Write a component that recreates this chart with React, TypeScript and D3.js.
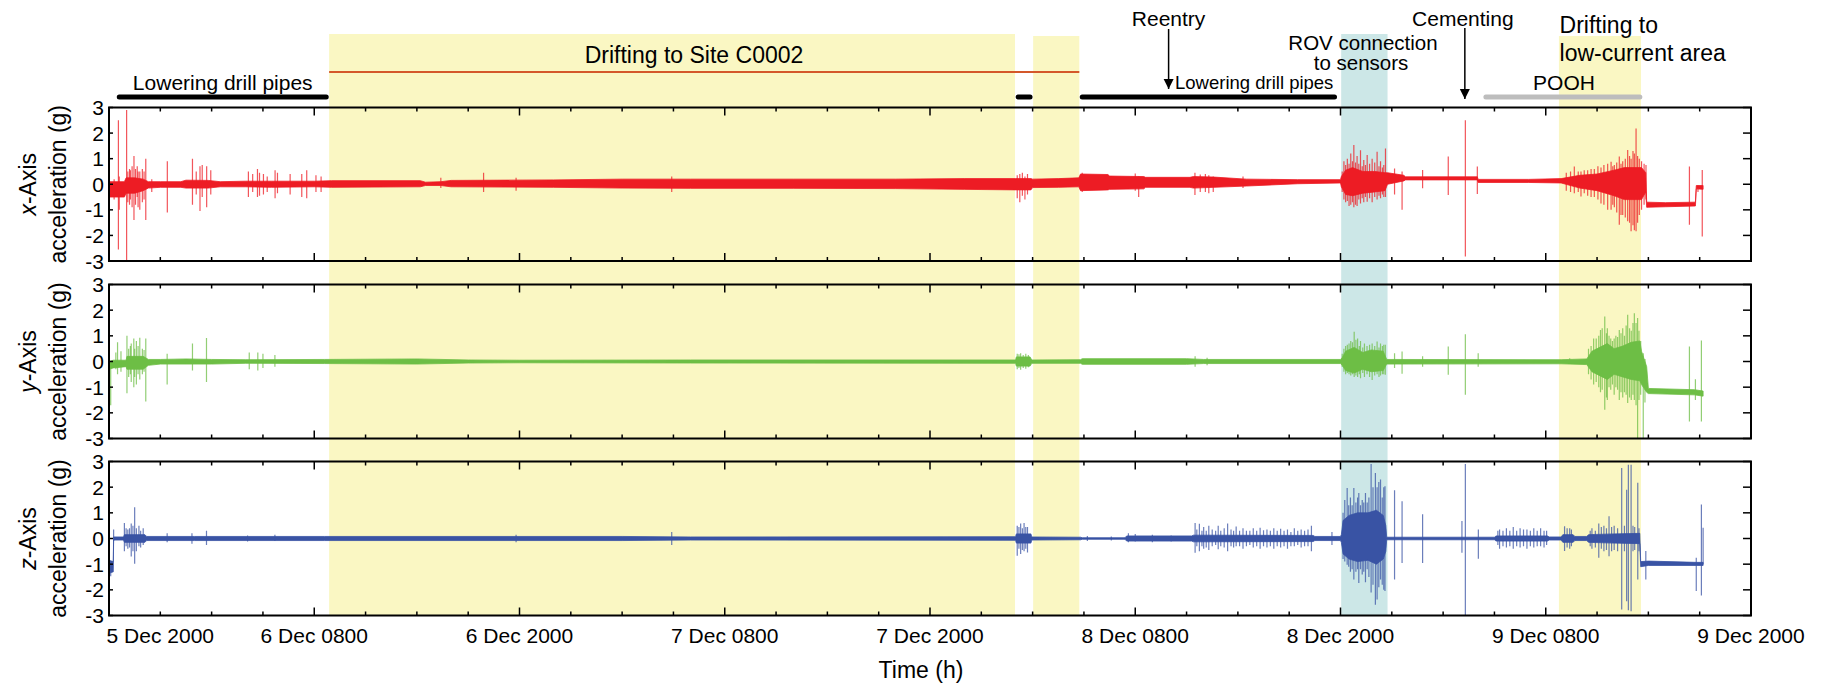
import React from "react";
import * as d3 from "d3";

// ---------- DATA (hours since 5 Dec 2000 20:00 on the plot's time axis) ----------
const xTickHours = [3, 12, 24, 36, 48, 60, 72, 84, 96];
const xTickLabels = ["5 Dec 2000", "6 Dec 0800", "6 Dec 2000", "7 Dec 0800", "7 Dec 2000", "8 Dec 0800", "8 Dec 2000", "9 Dec 0800", "9 Dec 2000"];
const yTicks = [-3, -2, -1, 0, 1, 2, 3];

// shaded operation periods [startH, endH]
const yellowPeriods = [[12.87, 52.97], [54.03, 56.73], [84.77, 89.57]];
const bluePeriods = [[72.04, 74.75]];

// operation bars [startH, endH]
const blackBars = [[0.6, 12.7], [53.15, 53.85], [56.9, 71.65]];
const driftLine = [12.87, 56.73];
const poohBar = [80.5, 89.5];
const reentryH = 61.95;
const cementingH = 79.27;

// x-axis acceleration: core band [h, lo, hi] and spikes [h, lo, hi]
const xBand = [
  [0, -0.5, 0.1], [0.9, -0.5, 0.1], [1.0, -0.35, 0.25], [1.5, -0.35, 0.25], [2.0, -0.25, 0.2],
  [2.3, -0.15, 0.1], [3.0, -0.12, 0.1], [4.2, -0.12, 0.1], [4.5, -0.15, 0.16], [5.8, -0.15, 0.15],
  [6.5, -0.1, 0.1], [8.0, -0.1, 0.12], [9.5, -0.12, 0.12], [12.0, -0.1, 0.12], [13.0, -0.12, 0.14],
  [18.2, -0.1, 0.14], [18.5, -0.05, 0.08], [19.4, -0.05, 0.1], [20, -0.1, 0.15], [26, -0.12, 0.17],
  [30, -0.15, 0.2], [34, -0.16, 0.2], [40, -0.16, 0.2], [46, -0.17, 0.2], [50, -0.2, 0.22],
  [53.0, -0.22, 0.22], [53.9, -0.22, 0.22], [54.0, -0.13, 0.2], [55.5, -0.12, 0.22], [56.7, -0.1, 0.25],
  [56.8, -0.25, 0.4], [58.4, -0.22, 0.38], [58.5, -0.2, 0.32], [60.5, -0.18, 0.3], [60.6, -0.12, 0.27],
  [63.2, -0.12, 0.27], [63.4, -0.15, 0.3], [64.6, -0.12, 0.28], [66.5, -0.07, 0.2], [69.5, 0.02, 0.18],
  [72.0, 0.05, 0.18], [72.05, -0.1, 0.3], [72.3, -0.4, 0.55], [72.7, -0.45, 0.65], [73.3, -0.35, 0.5],
  [74.0, -0.3, 0.5], [74.6, -0.25, 0.45], [74.75, 0.0, 0.45], [75.7, 0.13, 0.35], [75.8, 0.17, 0.29],
  [80.0, 0.17, 0.29], [80.05, 0.07, 0.19], [83.0, 0.07, 0.19], [84.9, 0.05, 0.22], [86.0, -0.15, 0.35],
  [87.0, -0.25, 0.4], [88.0, -0.45, 0.55], [88.6, -0.6, 0.65], [89.6, -0.6, 0.65], [89.85, -0.3, 0.45],
  [89.9, -0.9, -0.7], [91, -0.88, -0.72], [92.75, -0.85, -0.7], [92.8, -0.18, -0.05], [93.2, -0.2, -0.05],
];
const xSpikes = [
  [0.3, -0.6, 0.2], [0.55, -2.55, 2.5], [0.6, -1.0, 0.3], [1.03, -3.0, 2.9], [1.1, -0.7, 0.5],
  [1.2, -0.8, 0.6], [1.25, -0.6, 0.55], [1.35, -0.9, 0.7], [1.46, -1.4, 1.1], [1.55, -0.8, 0.6],
  [1.65, -0.5, 0.7], [1.7, -0.9, 0.5], [1.8, -1.0, 0.5], [1.95, -0.7, 0.6], [2.05, -0.6, 0.5],
  [2.15, -1.4, 1.0], [2.5, -0.3, 0.2], [3.41, -1.1, 0.9], [4.88, -0.8, 1.0], [5.1, -0.4, 0.5],
  [5.32, -1.05, 0.7], [5.45, -0.5, 0.75], [5.71, -0.9, 0.7], [5.95, -0.4, 0.55], [8.15, -0.5, 0.5],
  [8.4, -0.3, 0.4], [8.68, -0.5, 0.6], [8.8, -0.45, 0.45], [9.03, -0.4, 0.4], [9.25, -0.3, 0.3],
  [9.71, -0.55, 0.55], [9.85, -0.35, 0.45], [10.59, -0.4, 0.4], [11.27, -0.5, 0.4], [11.56, -0.55, 0.55],
  [12.1, -0.3, 0.35], [12.4, -0.3, 0.3], [19.4, -0.15, 0.25], [21.9, -0.3, 0.45], [23.8, -0.25, 0.25],
  [32.9, -0.3, 0.3], [53.1, -0.55, 0.35], [53.25, -0.7, 0.4], [53.4, -0.45, 0.45], [53.55, -0.6, 0.3],
  [53.7, -0.4, 0.4], [56.9, -0.3, 0.45], [60.0, -0.25, 0.42], [60.2, -0.5, 0.3], [63.49, -0.42, 0.45],
  [63.8, -0.3, 0.38], [64.1, -0.3, 0.4], [64.3, -0.35, 0.35], [64.56, -0.3, 0.3], [66.3, -0.15, 0.3],
  [72.1, -0.3, 0.5], [72.2, -0.6, 0.9], [72.3, -0.7, 0.75], [72.4, -0.65, 1.0], [72.5, -0.85, 0.8],
  [72.6, -0.8, 1.2], [72.7, -0.7, 0.9], [72.78, -0.9, 1.53], [72.88, -0.8, 0.85], [72.97, -0.85, 1.1],
  [73.07, -0.6, 0.8], [73.17, -0.75, 1.33], [73.27, -0.55, 0.7], [73.36, -0.7, 0.95], [73.46, -0.5, 0.75],
  [73.56, -0.68, 1.14], [73.7, -0.55, 0.8], [73.85, -0.7, 1.0], [74.0, -0.5, 0.85], [74.14, -0.6, 1.27],
  [74.25, -0.45, 0.7], [74.34, -0.55, 0.9], [74.45, -0.4, 0.65], [74.53, -0.5, 0.75], [74.63, -0.5, 1.4],
  [75.16, -0.4, 0.62], [75.6, -1.0, 0.5], [76.8, -0.16, 0.56], [78.3, -0.42, 1.08], [79.3, -2.82, 2.5],
  [80.0, -0.38, 0.69], [85.2, -0.25, 0.45], [85.45, -0.3, 0.5], [85.67, -0.35, 0.69], [85.9, -0.3, 0.5],
  [86.06, -0.48, 0.5], [86.25, -0.35, 0.55], [86.45, -0.45, 0.55], [86.65, -0.5, 0.6], [86.84, -0.5, 0.6],
  [87.05, -0.6, 0.7], [87.23, -0.75, 0.65], [87.4, -0.8, 0.75], [87.62, -1.0, 0.8], [87.82, -1.0, 0.88],
  [87.92, -0.8, 0.7], [88.01, -0.9, 0.75], [88.15, -1.1, 0.85], [88.3, -1.58, 1.08], [88.4, -1.2, 0.8],
  [88.5, -1.2, 0.9], [88.65, -1.3, 1.0], [88.79, -1.45, 1.34], [88.9, -1.5, 1.1], [88.99, -1.84, 1.0],
  [89.1, -1.6, 1.3], [89.18, -1.8, 1.2], [89.28, -1.84, 2.18], [89.37, -1.5, 1.1], [89.47, -1.2, 1.0],
  [89.6, -1.0, 0.9], [89.75, -0.8, 0.8], [89.86, -0.6, 0.75], [92.4, -1.58, 0.69], [92.9, -0.3, -0.05],
  [93.15, -2.04, 0.56],
];

// y-axis acceleration
const yBand = [
  [0, -0.3, 0.0], [0.25, -0.25, 0.05], [1.0, -0.2, 0.05], [1.05, -0.3, 0.2], [2.0, -0.3, 0.2],
  [2.3, -0.15, 0.08], [3.0, -0.1, 0.08], [4.5, -0.1, 0.1], [6.0, -0.1, 0.08], [8, -0.07, 0.07],
  [12.6, -0.08, 0.08], [18, -0.1, 0.1], [21, -0.06, 0.06], [24, -0.05, 0.05], [34, -0.06, 0.06],
  [53, -0.07, 0.06], [53.05, -0.18, 0.18], [53.85, -0.18, 0.18], [53.95, -0.07, 0.06], [56.8, -0.07, 0.07],
  [56.9, -0.11, 0.11], [63, -0.11, 0.11], [64, -0.08, 0.08], [72.0, -0.08, 0.08], [72.1, -0.15, 0.15],
  [72.3, -0.35, 0.4], [72.8, -0.45, 0.55], [73.3, -0.3, 0.35], [73.8, -0.4, 0.45], [74.5, -0.35, 0.4],
  [74.7, -0.1, 0.08], [84.9, -0.09, 0.07], [86.4, -0.12, 0.1], [86.7, -0.4, 0.4], [87.3, -0.6, 0.6],
  [87.6, -0.7, 0.7], [88.0, -0.5, 0.5], [88.5, -0.6, 0.6], [89.0, -0.7, 0.75], [89.5, -0.75, 0.8],
  [89.6, -0.9, 0.4], [89.9, -1.2, -0.2], [90.0, -1.25, -1.05], [92.7, -1.3, -1.1], [93.2, -1.35, -1.15],
];
const ySpikes = [
  [0.1, -1.7, 0.0], [0.4, -0.3, 0.35], [0.5, -0.5, 0.75], [0.7, -0.4, 0.4], [1.05, -1.24, 1.0],
  [1.15, -0.6, 0.5], [1.25, -0.5, 0.6], [1.3, -0.8, 0.7], [1.45, -1.0, 0.9], [1.5, -0.6, 0.5],
  [1.6, -0.9, 0.8], [1.7, -0.5, 0.6], [1.8, -0.7, 0.93], [1.95, -0.5, 0.5], [2.05, -0.4, 0.45],
  [2.15, -1.56, 0.9], [3.4, -0.9, 0.3], [4.88, -0.35, 0.7], [5.7, -0.8, 0.92], [8.2, -0.3, 0.35],
  [8.7, -0.35, 0.35], [9.0, -0.25, 0.3], [9.7, -0.2, 0.25], [53.1, -0.3, 0.3], [53.2, -0.25, 0.28],
  [53.3, -0.32, 0.32], [53.45, -0.25, 0.25], [53.6, -0.28, 0.3], [53.75, -0.22, 0.25], [63.5, -0.2, 0.2],
  [64.2, -0.15, 0.15], [72.1, -0.2, 0.3], [72.2, -0.4, 0.5], [72.3, -0.5, 0.6], [72.4, -0.45, 0.65],
  [72.5, -0.5, 0.7], [72.6, -0.55, 0.8], [72.7, -0.5, 0.75], [72.8, -0.6, 1.16], [72.9, -0.55, 0.85],
  [73.0, -0.6, 0.9], [73.1, -0.5, 0.6], [73.17, -0.65, 0.8], [73.3, -0.45, 0.55], [73.4, -0.6, 0.7],
  [73.55, -0.5, 0.6], [73.7, -0.6, 0.65], [73.85, -0.72, 0.7], [74.0, -0.55, 0.6], [74.14, -0.5, 0.78],
  [74.25, -0.6, 0.55], [74.34, -0.55, 0.7], [74.45, -0.5, 0.6], [74.53, -0.5, 0.65], [74.62, -0.52, 0.65],
  [75.16, -0.25, 0.32], [75.6, -0.48, 0.39], [76.8, -0.2, 0.2], [78.3, -0.52, 0.58], [79.3, -1.3, 1.06],
  [80.05, -0.2, 0.32], [85.4, -0.1, 0.13], [86.5, -0.5, 0.5], [86.65, -0.7, 0.6], [86.8, -0.9, 0.9],
  [86.95, -0.8, 0.9], [87.1, -1.0, 1.0], [87.2, -1.2, 1.23], [87.3, -1.1, 1.3], [87.45, -1.88, 1.75],
  [87.55, -1.4, 1.1], [87.6, -1.5, 1.3], [87.7, -1.0, 1.0], [87.8, -1.1, 0.9], [87.9, -0.9, 0.8],
  [88.0, -1.3, 0.9], [88.1, -1.0, 1.0], [88.2, -1.1, 0.95], [88.3, -1.5, 1.23], [88.4, -1.2, 1.1],
  [88.5, -1.4, 1.3], [88.6, -1.2, 1.0], [88.7, -1.3, 1.4], [88.79, -1.62, 1.82], [88.9, -1.4, 1.3],
  [89.0, -1.5, 1.2], [89.1, -1.3, 1.5], [89.18, -1.5, 1.88], [89.28, -1.7, 1.5], [89.37, -3.0, 1.69],
  [89.45, -1.5, 1.2], [89.55, -1.3, 0.8], [89.7, -3.0, 0.32], [89.8, -1.6, 0.1], [92.4, -2.34, 0.58],
  [92.75, -1.5, -0.69], [93.1, -2.34, 0.82],
];

// z-axis acceleration
const zBand = [
  [0, -1.35, -0.85], [0.25, -1.3, -0.9], [0.27, -0.06, 0.06], [0.85, -0.06, 0.06], [0.9, -0.15, 0.15],
  [2.1, -0.15, 0.15], [2.2, -0.08, 0.08], [5, -0.08, 0.08], [12.6, -0.08, 0.08], [30, -0.08, 0.08],
  [34, -0.06, 0.06], [53.0, -0.07, 0.07], [53.05, -0.18, 0.18], [53.9, -0.18, 0.18], [53.95, -0.06, 0.06],
  [56.8, -0.05, 0.05], [56.9, -0.03, 0.03], [59.4, -0.03, 0.03], [59.5, -0.1, 0.1], [63.3, -0.1, 0.1],
  [63.4, -0.13, 0.13], [70.4, -0.12, 0.12], [70.5, -0.08, 0.08], [72.0, -0.08, 0.08], [72.05, -0.15, 0.15],
  [72.15, -0.6, 0.7], [72.5, -0.8, 0.9], [73.0, -0.9, 1.0], [73.6, -0.85, 1.0], [74.1, -1.0, 1.1],
  [74.5, -0.8, 0.9], [74.65, -0.5, 0.5], [74.7, -0.05, 0.05], [81.0, -0.05, 0.05], [81.1, -0.1, 0.1],
  [84.1, -0.1, 0.1], [84.2, -0.06, 0.06], [84.9, -0.06, 0.06], [85.0, -0.15, 0.15], [85.6, -0.15, 0.15],
  [85.7, -0.08, 0.08], [86.4, -0.08, 0.08], [86.5, -0.15, 0.15], [88.0, -0.18, 0.18], [89.5, -0.2, 0.2],
  [89.55, -1.1, -0.9], [90.0, -1.05, -0.88], [92.8, -1.05, -0.93], [93.2, -1.05, -0.93],
];
const zSpikes = [
  [0.1, -1.47, -0.9], [0.27, -0.1, 0.35], [0.9, -0.5, 0.6], [1.0, -0.3, 0.4], [1.1, -0.4, 0.35],
  [1.2, -0.35, 0.4], [1.3, -0.7, 0.58], [1.4, -0.5, 0.5], [1.5, -0.98, 1.22], [1.6, -0.5, 0.4],
  [1.75, -0.3, 0.5], [1.85, -0.35, 0.3], [2.0, -0.25, 0.4], [3.4, -0.15, 0.2], [4.85, -0.2, 0.2],
  [5.7, -0.25, 0.3], [8.1, -0.12, 0.12], [9.7, -0.1, 0.15], [23.8, -0.15, 0.15], [32.9, -0.25, 0.25],
  [53.1, -0.67, 0.5], [53.2, -0.4, 0.45], [53.3, -0.6, 0.58], [53.4, -0.45, 0.4], [53.5, -0.5, 0.6],
  [53.6, -0.4, 0.45], [53.7, -0.55, 0.45], [57.2, -0.1, 0.1], [58.6, -0.08, 0.08], [59.6, -0.15, 0.2],
  [60.0, -0.12, 0.18], [61, -0.15, 0.15], [62.1, -0.12, 0.12], [63.5, -0.56, 0.6], [63.6, -0.3, 0.35],
  [63.75, -0.5, 0.57], [63.9, -0.3, 0.3], [64.0, -0.4, 0.45], [64.15, -0.35, 0.3], [64.3, -0.45, 0.5],
  [64.5, -0.3, 0.35], [64.7, -0.25, 0.3], [64.85, -0.42, 0.5], [65.0, -0.3, 0.3], [65.2, -0.35, 0.4],
  [65.4, -0.5, 0.58], [65.6, -0.3, 0.35], [65.75, -0.35, 0.3], [65.9, -0.3, 0.47], [66.1, -0.3, 0.3],
  [66.3, -0.4, 0.4], [66.5, -0.3, 0.3], [66.7, -0.25, 0.3], [66.9, -0.35, 0.4], [67.1, -0.3, 0.3],
  [67.3, -0.4, 0.42], [67.5, -0.3, 0.32], [67.7, -0.35, 0.35], [67.9, -0.3, 0.3], [68.1, -0.4, 0.4],
  [68.3, -0.3, 0.3], [68.5, -0.35, 0.38], [68.7, -0.3, 0.3], [68.9, -0.4, 0.35], [69.1, -0.3, 0.25],
  [69.3, -0.3, 0.4], [69.5, -0.25, 0.3], [69.7, -0.35, 0.35], [69.9, -0.3, 0.3], [70.1, -0.3, 0.35],
  [70.3, -0.5, 0.5], [71.5, -0.25, 0.25], [72.15, -0.8, 1.0], [72.25, -0.9, 1.5], [72.39, -1.02, 1.97],
  [72.48, -1.1, 1.3], [72.58, -1.3, 1.6], [72.68, -1.2, 1.3], [72.78, -1.6, 1.97], [72.9, -1.3, 1.4],
  [73.0, -1.2, 1.6], [73.07, -1.73, 1.77], [73.17, -1.2, 1.3], [73.27, -1.4, 1.5], [73.36, -1.3, 1.4],
  [73.46, -1.7, 1.77], [73.56, -1.2, 1.4], [73.66, -1.5, 1.6], [73.79, -2.1, 2.9], [73.9, -1.8, 2.0],
  [74.04, -2.58, 2.55], [74.14, -2.38, 2.0], [74.24, -1.9, 2.2], [74.34, -1.6, 2.3], [74.44, -1.8, 1.6],
  [74.53, -2.0, 2.0], [74.6, -2.05, 2.04], [75.16, -1.6, 1.88], [75.6, -0.95, 1.45], [76.8, -0.95, 0.94],
  [79.1, -0.56, 0.68], [79.3, -3.0, 2.9], [80.06, -0.79, 0.35], [81.2, -0.25, 0.3], [81.3, -0.4, 0.35],
  [81.5, -0.3, 0.3], [81.7, -0.35, 0.4], [81.9, -0.3, 0.3], [82.1, -0.4, 0.45], [82.3, -0.3, 0.3],
  [82.5, -0.35, 0.4], [82.7, -0.3, 0.35], [82.9, -0.4, 0.35], [83.1, -0.3, 0.3], [83.3, -0.35, 0.4],
  [83.5, -0.3, 0.3], [83.7, -0.3, 0.4], [83.9, -0.35, 0.3], [84.05, -0.25, 0.3], [85.1, -0.49, 0.48],
  [85.25, -0.35, 0.4], [85.4, -0.4, 0.4], [85.5, -0.3, 0.35], [86.6, -0.3, 0.3], [86.7, -0.4, 0.4],
  [86.9, -0.35, 0.3], [87.1, -0.75, 0.58], [87.25, -0.4, 0.45], [87.4, -0.5, 0.5], [87.55, -0.45, 0.4],
  [87.7, -0.69, 0.87], [87.85, -0.5, 0.45], [88.0, -0.45, 0.5], [88.2, -0.5, 0.4], [88.44, -2.77, 2.75],
  [88.6, -0.5, 0.5], [88.73, -2.44, 1.9], [88.83, -2.8, 2.87], [88.99, -2.83, 2.87], [89.1, -0.5, 0.5],
  [89.2, -0.45, 0.45], [89.38, -1.6, 2.17], [89.45, -0.5, 0.4], [89.85, -1.6, -0.49], [92.8, -2.05, -0.75],
  [93.1, -2.22, 1.32], [93.2, -1.0, 0.42],
];

// ---------- LAYOUT ----------
const W = 1824, H = 689;
const PL = 109, PR = 1751;
const panels = [
  { top: 107.5, bottom: 261, band: xBand, spikes: xSpikes, color: "#ED1C24", axis: "x" },
  { top: 284.5, bottom: 438.5, band: yBand, spikes: ySpikes, color: "#6DBE45", axis: "y" },
  { top: 461.5, bottom: 615.5, band: zBand, spikes: zSpikes, color: "#3953A4", axis: "z" },
];
const FONT = "'Liberation Sans', Arial, Helvetica, sans-serif";
const YELLOW = "#FAF7C3";
const BLUE = "#CCE7E7";

export default function App() {
  const x = d3.scaleLinear().domain([0, 96]).range([PL, PR]);
  const minorTicks = d3.range(0, 97, 3);
  const shadeTop = 34;
  const shadeBottom = panels[2].bottom;

  return (
    <svg width={W} height={H} style={{ position: "absolute", left: 0, top: 0, background: "#fff" }} fontFamily={FONT}>
      <defs>
        {panels.map((p, i) => (
          <clipPath id={`clip${i}`} key={i}>
            <rect x={PL} y={p.top} width={PR - PL} height={p.bottom - p.top} />
          </clipPath>
        ))}
        <marker id="arrow" viewBox="0 0 10 10" refX="10" refY="5" markerWidth="10" markerHeight="14" markerUnits="userSpaceOnUse" orient="auto">
          <path d="M0,0 L10,5 L0,10 z" fill="#000" />
        </marker>
      </defs>

      {/* shaded periods */}
      {yellowPeriods.map(([a, b], i) => (
        <rect key={"y" + i} x={x(a)} y={i === 0 ? shadeTop : shadeTop + 2} width={x(b) - x(a)} height={shadeBottom - (i === 0 ? shadeTop : shadeTop + 2)} fill={YELLOW} />
      ))}
      {bluePeriods.map(([a, b], i) => (
        <rect key={"b" + i} x={x(a)} y={shadeTop} width={x(b) - x(a)} height={shadeBottom - shadeTop} fill={BLUE} />
      ))}

      {/* panels */}
      {panels.map((p, i) => {
        const y = d3.scaleLinear().domain([-3, 3]).range([p.bottom, p.top]);
        const area = d3.area<number[]>().x((d) => x(d[0])).y0((d) => y(d[1])).y1((d) => y(d[2]));
        const mid = (p.top + p.bottom) / 2;
        return (
          <g key={i}>
            <g clipPath={`url(#clip${i})`}>
              {p.spikes.map((s, j) => (
                <line key={j} x1={x(s[0])} x2={x(s[0])} y1={y(s[1])} y2={y(s[2])} stroke={p.color} strokeWidth={1.2} strokeOpacity={0.75} />
              ))}
              <path d={area(p.band as number[][]) || ""} fill={p.color} stroke={p.color} strokeWidth={0.8} />
            </g>
            {/* ticks */}
            {minorTicks.map((t) => {
              const major = t % 12 === 0;
              const len = major ? 8 : 4;
              return (
                <g key={t} stroke="#000" strokeWidth={1.5}>
                  <line x1={x(t)} x2={x(t)} y1={p.top} y2={p.top + len} />
                  <line x1={x(t)} x2={x(t)} y1={p.bottom} y2={p.bottom - len} />
                </g>
              );
            })}
            {yTicks.map((v) => (
              <g key={v} stroke="#000" strokeWidth={1.5}>
                <line x1={PL} x2={PL + 4} y1={y(v)} y2={y(v)} />
                <line x1={PR} x2={PR - 8} y1={y(v)} y2={y(v)} />
              </g>
            ))}
            {yTicks.map((v) => (
              <text key={"t" + v} x={PL - 5} y={y(v)} dy="0.36em" textAnchor="end" fontSize={21} fill="#000">
                {v}
              </text>
            ))}
            <rect x={PL} y={p.top} width={PR - PL} height={p.bottom - p.top} fill="none" stroke="#000" strokeWidth={2} />
            {/* axis title */}
            <text transform={`translate(28,${mid}) rotate(-90)`} textAnchor="middle" dy="0.36em" fontSize={23} fill="#000">
              <tspan fontStyle="italic">{p.axis}</tspan>-Axis
            </text>
            <text transform={`translate(58,${mid}) rotate(-90)`} textAnchor="middle" dy="0.36em" fontSize={23} fill="#000">
              acceleration (g)
            </text>
          </g>
        );
      })}

      {/* x tick labels */}
      {xTickHours.map((h, i) => (
        <text key={h} x={x(h)} y={643} textAnchor="middle" fontSize={21} fill="#000">
          {xTickLabels[i]}
        </text>
      ))}
      <text x={921} y={678} textAnchor="middle" fontSize={23} fill="#000">Time (h)</text>

      {/* operation annotations */}
      {blackBars.map(([a, b], i) => (
        <line key={i} x1={x(a)} x2={x(b)} y1={97} y2={97} stroke="#000" strokeWidth={5} strokeLinecap="round" />
      ))}
      <line x1={x(driftLine[0])} x2={x(driftLine[1])} y1={72} y2={72} stroke="#D4582A" strokeWidth={2.2} />
      <line x1={x(poohBar[0])} x2={x(poohBar[1])} y1={97} y2={97} stroke="#BDBDBD" strokeWidth={5} strokeLinecap="round" />

      <text x={x(6.65)} y={89.5} textAnchor="middle" fontSize={21}>Lowering drill pipes</text>
      <text x={694} y={63} textAnchor="middle" fontSize={23}>Drifting to Site C0002</text>
      <text x={1175} y={88.5} fontSize={18.5}>Lowering drill pipes</text>
      <text x={x(reentryH)} y={25.5} textAnchor="middle" fontSize={21}>Reentry</text>
      <line x1={x(reentryH)} x2={x(reentryH)} y1={29} y2={89} stroke="#000" strokeWidth={1.5} markerEnd="url(#arrow)" />
      <text x={1363} y={49.5} textAnchor="middle" fontSize={20.5}>ROV connection</text>
      <text x={1361} y={70} textAnchor="middle" fontSize={20.5}>to sensors</text>
      <text x={x(cementingH) - 2} y={25.5} textAnchor="middle" fontSize={21}>Cementing</text>
      <line x1={x(cementingH)} x2={x(cementingH)} y1={28} y2={99} stroke="#000" strokeWidth={1.5} markerEnd="url(#arrow)" />
      <text x={1559.6} y={33} fontSize={23}>Drifting to</text>
      <text x={1559.6} y={61} fontSize={23}>low-current area</text>
      <text x={1564} y={89.5} textAnchor="middle" fontSize={21}>POOH</text>
    </svg>
  );
}
